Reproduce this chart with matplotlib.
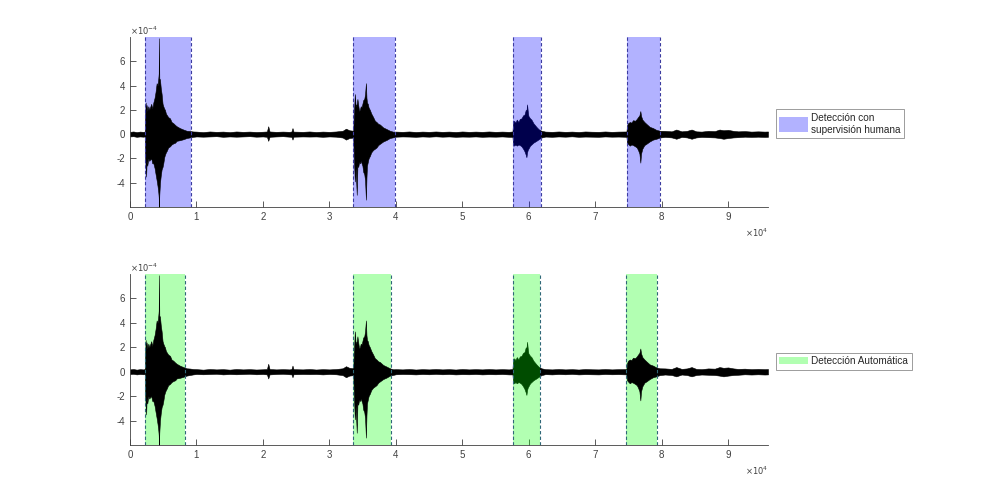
import matplotlib
matplotlib.use("Agg")
import matplotlib.pyplot as plt
import numpy as np

plt.rcParams['font.family'] = ['Liberation Sans', 'DejaVu Sans']

# ---------------- data (x in units of 1e4 samples, amplitude in units of 1e-4) -------------
env_x = [0.00, 0.05, 0.10, 0.15, 0.20, 0.225,
         0.230, 0.236, 0.243, 0.250, 0.260, 0.276, 0.290, 0.301, 0.320, 0.335, 0.351, 0.370,
         0.385, 0.401, 0.415, 0.426, 0.432, 0.436, 0.441, 0.451, 0.463, 0.476, 0.490, 0.501,
         0.515, 0.526, 0.540, 0.551, 0.575, 0.602, 0.625, 0.652, 0.680, 0.702, 0.750, 0.802,
         0.852, 0.900, 0.952,
         1.00, 1.10, 1.20, 1.30, 1.40, 1.50, 1.60, 1.70, 1.80, 1.90, 2.00, 2.06, 2.08, 2.10,
         2.20, 2.30, 2.40, 2.43, 2.445, 2.46, 2.60, 2.70, 2.80, 2.90, 3.00, 3.10, 3.20, 3.25,
         3.30, 3.36,
         3.368, 3.383, 3.395, 3.412, 3.422, 3.434, 3.447, 3.459, 3.472, 3.484, 3.497, 3.509,
         3.525, 3.537, 3.550, 3.558, 3.566, 3.578, 3.590, 3.609, 3.630, 3.659, 3.685, 3.709,
         3.735, 3.759, 3.810, 3.860, 3.910, 3.960,
         4.00, 4.10, 4.20, 4.30, 4.40, 4.50, 4.60, 4.70, 4.80, 4.90, 5.00, 5.10, 5.20, 5.30,
         5.40, 5.50, 5.60, 5.70, 5.755,
         5.764, 5.780, 5.800, 5.820, 5.845, 5.865, 5.890, 5.915, 5.935, 5.955, 5.965, 5.975,
         5.985, 5.995, 6.020, 6.040, 6.070, 6.115, 6.150, 6.191,
         6.25, 6.35, 6.45, 6.55, 6.65, 6.75, 6.85, 6.95, 7.05, 7.15, 7.25, 7.35, 7.47,
         7.479, 7.494, 7.520, 7.545, 7.569, 7.600, 7.625, 7.644, 7.665, 7.679, 7.690, 7.709,
         7.740, 7.769, 7.820, 7.870, 7.920, 7.970,
         8.05, 8.15, 8.22, 8.30, 8.38, 8.45, 8.52, 8.60, 8.70, 8.80, 8.87, 8.93, 9.00, 9.08,
         9.15, 9.25, 9.35, 9.45, 9.55, 9.60]

env_upper = [0.19, 0.22, 0.17, 0.21, 0.19, 0.22,
             1.6, 2.6, 1.8, 2.4, 1.9, 2.3, 2.0, 2.2, 2.5, 2.1, 2.6, 3.0,
             3.5, 4.2, 4.0, 4.6, 5.0, 7.9, 4.6, 4.5, 3.8, 3.3, 2.5, 2.3,
             2.1, 2.0, 1.7, 1.6, 1.4, 1.3, 1.0, 0.9, 0.75, 0.65, 0.5, 0.38,
             0.28, 0.26, 0.22,
             0.21, 0.17, 0.22, 0.19, 0.21, 0.17, 0.22, 0.19, 0.21, 0.18, 0.20, 0.22, 0.65, 0.22,
             0.19, 0.21, 0.19, 0.22, 0.50, 0.21, 0.19, 0.22, 0.18, 0.21, 0.19, 0.22, 0.28, 0.45,
             0.32, 0.28,
             1.5, 3.3, 2.3, 2.5, 2.9, 2.4, 1.9, 2.0, 2.3, 2.2, 2.5, 2.8,
             2.9, 3.3, 4.2, 3.0, 2.6, 2.5, 2.2, 2.0, 1.7, 1.4, 1.1, 1.0,
             0.85, 0.8, 0.55, 0.42, 0.28, 0.20,
             0.21, 0.19, 0.22, 0.18, 0.21, 0.19, 0.22, 0.19, 0.21, 0.18, 0.22, 0.19, 0.21, 0.19,
             0.22, 0.19, 0.21, 0.19, 0.22,
             0.9, 1.1, 0.95, 1.2, 1.0, 1.25, 1.3, 1.55, 1.6, 2.0, 1.9, 2.45,
             1.9, 1.5, 1.3, 1.2, 0.9, 0.6, 0.4, 0.28,
             0.21, 0.19, 0.22, 0.19, 0.21, 0.18, 0.22, 0.20, 0.19, 0.22, 0.19, 0.21, 0.22,
             0.7, 0.9, 1.0, 0.95, 1.15, 1.1, 1.25, 1.4, 1.55, 1.9, 1.5, 1.2,
             1.0, 0.85, 0.6, 0.5, 0.35, 0.28,
             0.27, 0.23, 0.38, 0.23, 0.27, 0.38, 0.23, 0.21, 0.27, 0.25, 0.38, 0.32, 0.35, 0.27,
             0.23, 0.25, 0.21, 0.23, 0.21, 0.22]

env_lower = [-0.19, -0.17, -0.22, -0.19, -0.21, -0.19,
             -2.0, -2.7, -3.5, -2.2, -2.6, -2.0, -2.2, -2.1, -2.0, -2.4, -2.4, -2.8,
             -3.3, -3.8, -4.3, -4.8, -5.2, -6.0, -5.0, -4.0, -3.4, -2.9, -2.7, -2.4,
             -1.9, -1.7, -1.5, -1.4, -1.1, -1.0, -0.85, -0.76, -0.7, -0.55, -0.5, -0.42,
             -0.32, -0.27, -0.22,
             -0.19, -0.21, -0.19, -0.17, -0.22, -0.19, -0.21, -0.19, -0.17, -0.21, -0.19, -0.22, -0.55, -0.22,
             -0.19, -0.17, -0.21, -0.22, -0.45, -0.21, -0.19, -0.20, -0.19, -0.22, -0.19, -0.21, -0.28, -0.45,
             -0.32, -0.28,
             -1.8, -3.9, -2.8, -5.0, -2.6, -2.7, -2.3, -2.4, -2.2, -2.4, -2.6, -3.1,
             -3.3, -3.8, -5.4, -3.6, -2.6, -2.3, -2.0, -1.8, -1.5, -1.3, -1.2, -1.1,
             -0.9, -0.8, -0.6, -0.48, -0.32, -0.26,
             -0.21, -0.19, -0.20, -0.22, -0.19, -0.21, -0.18, -0.21, -0.19, -0.22, -0.20, -0.21, -0.19, -0.22,
             -0.20, -0.21, -0.19, -0.22, -0.22,
             -0.8, -0.95, -0.85, -0.95, -0.85, -0.9, -1.0, -1.2, -1.4, -1.7, -1.9, -1.5,
             -1.3, -1.2, -0.95, -0.85, -0.7, -0.55, -0.42, -0.28,
             -0.20, -0.22, -0.19, -0.21, -0.18, -0.22, -0.20, -0.21, -0.22, -0.19, -0.21, -0.20, -0.22,
             -0.7, -0.8, -0.95, -0.85, -0.9, -1.0, -1.1, -1.3, -1.6, -2.35, -1.6, -1.2,
             -0.9, -0.8, -0.6, -0.45, -0.38, -0.28,
             -0.23, -0.27, -0.38, -0.23, -0.27, -0.38, -0.27, -0.23, -0.25, -0.27, -0.32, -0.38, -0.32, -0.27,
             -0.25, -0.21, -0.23, -0.21, -0.23, -0.22]

# detection windows (units of 1e4 samples)
human_start = [0.226, 3.36, 5.76, 7.48]
human_end = [0.917, 3.98, 6.185, 7.97]
auto_start = [0.22, 3.36, 5.77, 7.47]
auto_end = [0.83, 3.93, 6.17, 7.93]

x_ticks = [0, 1, 2, 3, 4, 5, 6, 7, 8, 9]
x_ticklabels = ['0', '1', '2', '3', '4', '5', '6', '7', '8', '9']
y_ticks = [-4, -2, 0, 2, 4, 6]
y_ticklabels = ['-4', '-2', '0', '2', '4', '6']

legend_labels = ['Detección con\nsupervisión humana', 'Detección Automática']

# ---------------- figure ----------------
fig = plt.figure(figsize=(10, 5), dpi=100)
ax1 = fig.add_axes([0.13, 0.586, 0.638, 0.34])
ax2 = fig.add_axes([0.13, 0.11, 0.638, 0.342])

xs = np.array(env_x) * 1e4
up = np.array(env_upper) * 1e-4
lo = np.array(env_lower) * 1e-4

axis_col = '#404040'


def draw(ax, starts, ends, color, edge, label, hh):
    for i, (s, e) in enumerate(zip(starts, ends)):
        z = 3 if i == 2 else 1
        ax.axvspan(s * 1e4, e * 1e4, facecolor=color, alpha=0.3, edgecolor='none',
                   zorder=z, label=label if i == 0 else None)
        for xv in (s, e):
            ax.axvline(xv * 1e4, color=edge, ls=(0, (3, 2)), lw=0.8, zorder=4)
    ax.fill_between(xs, lo, up, color='black', lw=0.4, zorder=2)
    ax.set_xlim(0, 9.6e4)
    ax.set_ylim(-6e-4, 8e-4)
    ax.set_xticks(np.array(x_ticks) * 1e4)
    ax.set_xticklabels(x_ticklabels)
    ax.set_yticks(np.array(y_ticks) * 1e-4)
    ax.set_yticklabels(y_ticklabels)
    for sp in ('top', 'right'):
        ax.spines[sp].set_visible(False)
    for sp in ('left', 'bottom'):
        ax.spines[sp].set_color(axis_col)
        ax.spines[sp].set_linewidth(0.6)
    ax.tick_params(direction='in', length=4, width=0.6, colors=axis_col, labelsize=7)
    ax.text(0.0, 1.0, r'$\times10^{-4}$', transform=ax.transAxes, ha='left', va='bottom',
            fontsize=6, color=axis_col)
    ax.text(1.0, -0.15, r'$\times10^{4}$', transform=ax.transAxes, ha='right', va='center',
            fontsize=6, color=axis_col)
    leg = ax.legend(loc='center left', bbox_to_anchor=(1.0125, 0.49), fontsize=7.2,
                    frameon=True, fancybox=False, handlelength=2.9, handleheight=hh,
                    borderpad=0.35, handletextpad=0.3, borderaxespad=0.0)
    leg.get_frame().set_edgecolor('#707070')
    leg.get_frame().set_linewidth(0.6)
    for t in leg.get_texts():
        t.set_color('#262626')
    for h in leg.legend_handles:
        h.set_alpha(0.3)


draw(ax1, human_start, human_end, (0, 0, 1), '#3c3ca0', legend_labels[0], 1.8)
draw(ax2, auto_start, auto_end, (0, 1, 0), '#2f6878', legend_labels[1], 0.75)

fig.savefig('out.png', dpi=100)
